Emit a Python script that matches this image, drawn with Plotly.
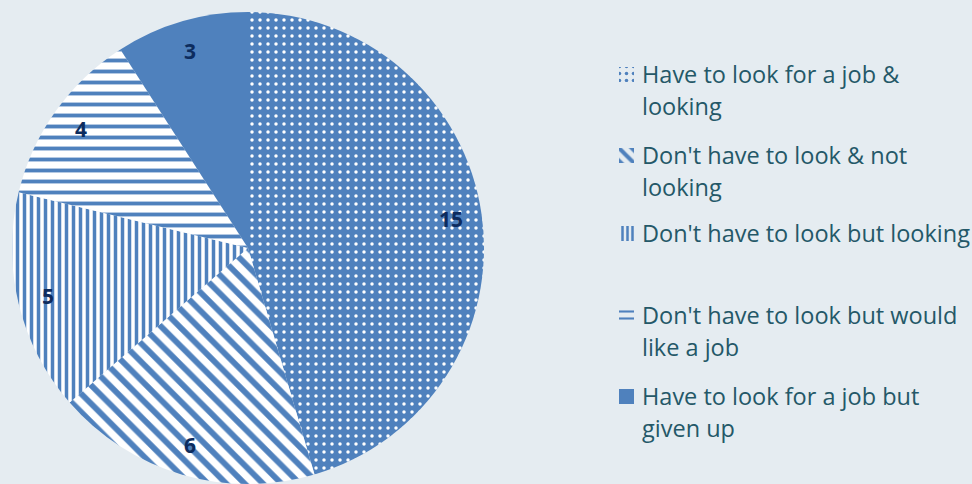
import math
import plotly.graph_objects as go

# Job-search status counts
categories = [
    "Have to look for a job & looking",
    "Don't have to look & not looking",
    "Don't have to look but looking",
    "Don't have to look but would like a job",
    "Have to look for a job but given up",
]
counts = [15, 6, 5, 4, 3]

# Legend text, wrapped as it is printed beside the pie
legend_lines = [
    ["Have to look for a job &", "looking"],
    ["Don't have to look & not", "looking"],
    ["Don't have to look but looking"],
    ["Don't have to look but would", "like a job"],
    ["Have to look for a job but", "given up"],
]

BLUE = "#4F81BD"
WHITE = "#FFFFFF"
BG = "#E5ECF1"
TEXT = "#245868"
LABEL = "#0D2C5E"
FONT = "Open Sans"

W, H = 972, 484

# Pie placement in pixels
CX, CY, R = 248, 248, 236

# Fill style of each slice
shapes = [".", "\\", "|", "-", ""]
fg = [WHITE, BLUE, BLUE, BLUE, BLUE]
bg = [BLUE, WHITE, WHITE, WHITE, BLUE]
pie_sizes = [8, 13, 7, 11, 8]
pie_solid = [0.15, 0.45, 0.5, 0.35, 1.0]

fig = go.Figure()

fig.add_trace(go.Pie(
    labels=categories,
    values=counts,
    sort=False,
    direction="clockwise",
    rotation=0,
    domain=dict(x=[(CX - R) / W, (CX + R) / W], y=[0, 2 * R / H]),
    marker=dict(
        colors=[BLUE] * 5,
        line=dict(width=0),
        pattern=dict(shape=shapes, fgcolor=fg, bgcolor=bg,
                     size=pie_sizes, solidity=pie_solid, fillmode="replace"),
    ),
    textinfo="none",
    hoverinfo="label+value",
    showlegend=False,
))

# Value labels near the outer end of each slice, at the slice's mid-angle
annotations = []
total = sum(counts)
cum = 0
for v in counts:
    mid = (cum + v / 2) / total * 2 * math.pi
    cum += v
    annotations.append(dict(
        x=CX + 0.87 * R * math.sin(mid), y=CY - 0.87 * R * math.cos(mid),
        xref="x", yref="y", text=str(v), showarrow=False,
        xanchor="center", yanchor="middle",
        font=dict(family=FONT, size=21, color=LABEL, weight="bold"),
    ))

# Legend drawn on a pixel-space overlay: swatches as small bars, text as annotations
leg_x = 619
leg_sw = 15
leg_text_x = 640
item_tops = [74, 155, 233, 315, 396]
line_gap = 32

sw_sizes = [7, 9, 5, 7, 8]
sw_solid = [0.2, 0.45, 0.5, 0.3, 1.0]

fig.add_trace(go.Bar(
    orientation="h",
    y=item_tops,
    x=[leg_sw] * 5,
    base=[leg_x] * 5,
    width=[leg_sw] * 5,
    marker=dict(
        color=[BLUE] * 5,
        line=dict(width=0),
        pattern=dict(shape=shapes, fgcolor=fg, bgcolor=bg,
                     size=sw_sizes, solidity=sw_solid, fillmode="replace"),
    ),
    hoverinfo="skip",
    showlegend=False,
    xaxis="x",
    yaxis="y",
))

for top, lines in zip(item_tops, legend_lines):
    for k, line in enumerate(lines):
        annotations.append(dict(
            x=leg_text_x, y=top + k * line_gap, xref="x", yref="y",
            text=line, showarrow=False, xanchor="left", yanchor="middle",
            font=dict(family=FONT, size=23.5, color=TEXT),
        ))

fig.update_layout(
    width=W, height=H,
    margin=dict(l=0, r=0, t=0, b=0),
    paper_bgcolor=BG,
    plot_bgcolor="rgba(0,0,0,0)",
    xaxis=dict(range=[0, W], domain=[0, 1], visible=False, fixedrange=True),
    yaxis=dict(range=[H, 0], domain=[0, 1], visible=False, fixedrange=True),
    annotations=annotations,
    bargap=0,
)

fig.write_html("out.html")
